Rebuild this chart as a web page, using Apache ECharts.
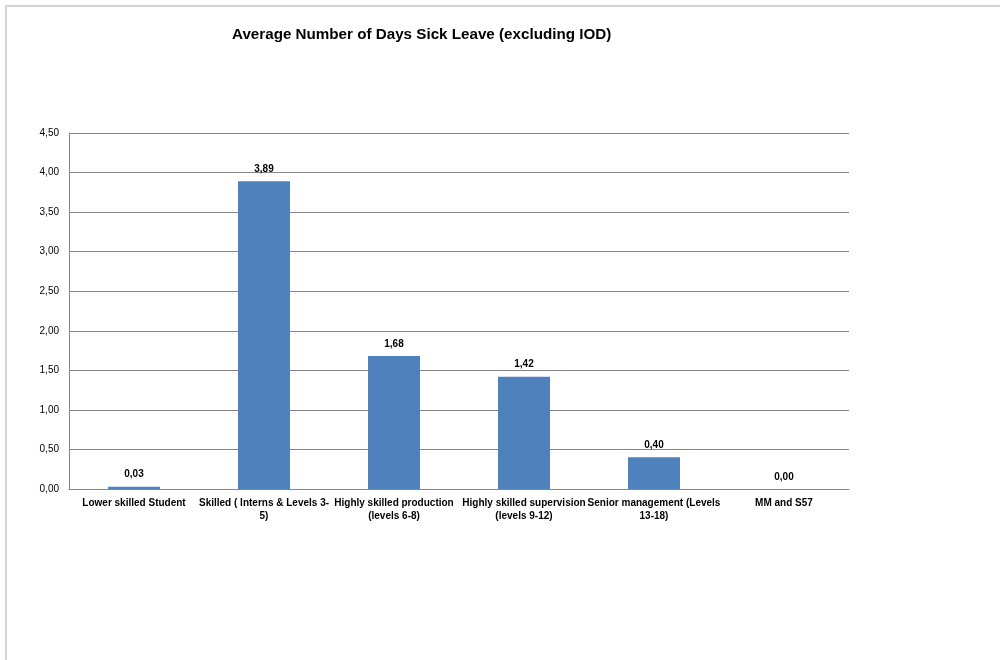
<!DOCTYPE html>
<html>
<head>
<meta charset="utf-8">
<style>
  html, body { margin: 0; padding: 0; background: #fff; }
  #frame { position: absolute; left: 5px; top: 5px; width: 1000px; height: 660px;
           border-left: 2px solid #d4d4d4; border-top: 2px solid #d4d4d4; box-sizing: border-box; }
  #chart { position: absolute; left: 0; top: 0; width: 1000px; height: 660px; }
</style>
<script src="https://cdn.jsdelivr.net/npm/echarts@6/dist/echarts.min.js"></script>
</head>
<body>
<div id="frame"></div>
<div id="chart"></div>
<script>
// Staff categories (line breaks as they wrap under the axis)
const categories = [
  'Lower skilled Student',
  'Skilled ( Interns & Levels 3-\n5)',
  'Highly skilled production\n(levels 6-8)',
  'Highly skilled supervision\n(levels 9-12)',
  'Senior management (Levels\n13-18)',
  'MM and S57'
];
// Average number of days of sick leave per category
const sickDays = [0.03, 3.89, 1.68, 1.42, 0.40, 0.00];
// Value axis ticks
const yTicks = [0, 0.5, 1, 1.5, 2, 2.5, 3, 3.5, 4, 4.5];

const comma = v => Number(v).toFixed(2).replace('.', ',');

const chart = echarts.init(document.getElementById('chart'), null, { renderer: 'canvas' });
chart.setOption({
  animation: false,
  backgroundColor: 'transparent',
  title: {
    text: 'Average Number of Days Sick Leave (excluding IOD)',
    left: 227, top: 22,
    textStyle: { fontFamily: 'Liberation Sans', fontWeight: 'bold', fontSize: 15.2, color: '#000' }
  },
  grid: { left: 69, right: 151, top: 133, bottom: 171 },
  xAxis: {
    type: 'category',
    data: categories,
    axisLine: { lineStyle: { color: '#868686', width: 1 } },
    axisTick: { show: false },
    axisLabel: {
      interval: 0, margin: 8,
      fontFamily: 'Liberation Sans Narrow, Liberation Sans', fontWeight: 'bold', fontSize: 10,
      color: '#000', lineHeight: 13
    }
  },
  yAxis: {
    type: 'value',
    min: yTicks[0], max: yTicks[yTicks.length - 1], interval: 0.5,
    axisLine: { show: true, lineStyle: { color: '#868686', width: 1 } },
    axisTick: { show: false },
    splitLine: { lineStyle: { color: '#868686', width: 1 } },
    axisLabel: {
      margin: 10, fontFamily: 'Liberation Sans', fontSize: 10, color: '#000',
      formatter: v => comma(v)
    }
  },
  series: [{
    type: 'bar',
    data: sickDays,
    barWidth: '40%',
    itemStyle: { color: '#4F81BD' },
    label: {
      show: true, position: 'top', distance: 7,
      fontFamily: 'Liberation Sans', fontWeight: 'bold', fontSize: 10, color: '#000',
      formatter: p => comma(p.value)
    }
  }]
});
</script>
</body>
</html>
